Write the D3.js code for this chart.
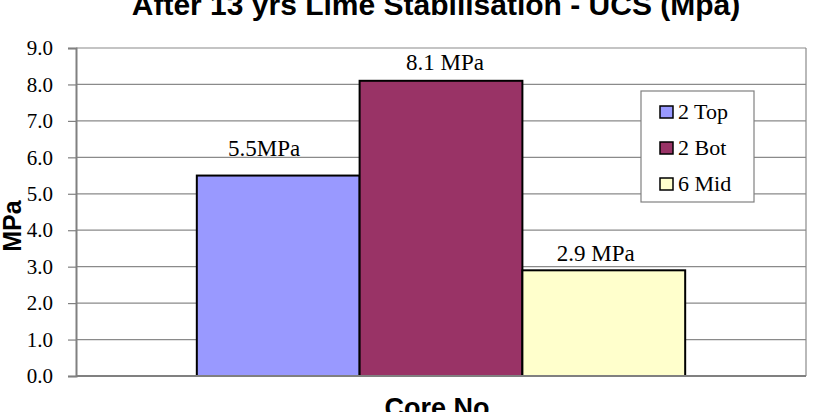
<!DOCTYPE html>
<html>
<head>
<meta charset="utf-8">
<script src="https://cdn.jsdelivr.net/npm/d3@7"></script>
<style>
  body { margin: 0; background: #fff; }
</style>
</head>
<body>
<div id="chart"></div>
<script>
const seriesNames = ['2 Top', '2 Bot', '6 Mid']
const seriesValues = [5.5, 8.1, 2.9]
const barLabels = ['5.5MPa', '8.1 MPa', '2.9 MPa']
const seriesColors = ['#9999ff', '#993366', '#ffffcc']
const yTicks = [0, 1, 2, 3, 4, 5, 6, 7, 8, 9]

// hand placed label nudges (dx, dy above bar top), as in the original sheet
const labelNudge = [[-14, 20], [4, 11], [-8, 9]]

const width = 815
const height = 412
const margin = { top: 48, right: 9, bottom: 36, left: 76 }
const innerW = width - margin.left - margin.right
const innerH = height - margin.top - margin.bottom

const serif = 'Liberation Serif, Times New Roman, serif'
const sans = 'Liberation Sans, Arial, sans-serif'

const svg = d3.select('#chart')
  .append('svg')
  .attr('width', width)
  .attr('height', height)

const g = svg.append('g')
  .attr('transform', `translate(${margin.left},${margin.top})`)

const y = d3.scaleLinear().domain([0, 9]).range([innerH, 0])
const x0 = d3.scaleBand().domain(['Core']).range([0, innerW]).paddingInner(0).paddingOuter(0.2474)
const x1 = d3.scaleBand().domain(seriesNames).range([0, x0.bandwidth()])

// gridlines
g.append('g')
  .selectAll('line')
  .data(yTicks)
  .join('line')
  .attr('x1', 0)
  .attr('x2', innerW)
  .attr('y1', d => y(d))
  .attr('y2', d => y(d))
  .attr('stroke', '#8a8a8a')
  .attr('stroke-width', 1.2)

// plot border (right side)
g.append('line')
  .attr('x1', innerW).attr('x2', innerW)
  .attr('y1', 0).attr('y2', innerH)
  .attr('stroke', '#8a8a8a')
  .attr('stroke-width', 1.2)

const data = seriesNames.map((s, i) => ({
  s, v: seriesValues[i], label: barLabels[i], c: seriesColors[i], nudge: labelNudge[i],
}))

// bars
g.append('g')
  .selectAll('rect')
  .data(data)
  .join('rect')
  .attr('x', d => x0('Core') + x1(d.s))
  .attr('y', d => y(d.v))
  .attr('width', x1.bandwidth())
  .attr('height', d => innerH - y(d.v))
  .attr('fill', d => d.c)
  .attr('stroke', '#000')
  .attr('stroke-width', 2)

// data labels
g.append('g')
  .selectAll('text')
  .data(data)
  .join('text')
  .attr('x', d => x0('Core') + x1(d.s) + x1.bandwidth() / 2 + d.nudge[0])
  .attr('y', d => y(d.v) - d.nudge[1])
  .attr('text-anchor', 'middle')
  .attr('font-family', serif)
  .attr('font-size', 23)
  .attr('fill', '#000')
  .text(d => d.label)

// y axis
const yAxis = g.append('g')
  .call(d3.axisLeft(y).tickValues(yTicks).tickFormat(d3.format('.1f')).tickSize(8).tickPadding(15))
yAxis.select('.domain').attr('stroke', '#808080').attr('stroke-width', 2)
yAxis.selectAll('.tick line').attr('stroke', '#808080').attr('stroke-width', 1.2)
yAxis.selectAll('.tick text')
  .attr('font-family', serif)
  .attr('font-size', 21)
  .attr('fill', '#000')

// x axis line
g.append('line')
  .attr('x1', 0).attr('x2', innerW)
  .attr('y1', innerH).attr('y2', innerH)
  .attr('stroke', '#808080').attr('stroke-width', 2)

// title
svg.append('text')
  .attr('x', 436)
  .attr('y', 15)
  .attr('text-anchor', 'middle')
  .attr('font-family', sans)
  .attr('font-weight', 'bold')
  .attr('font-size', 30)
  .text('After 13 yrs Lime Stabilisation - UCS (Mpa)')

// axis titles
svg.append('text')
  .attr('transform', 'translate(21,226) rotate(-90)')
  .attr('text-anchor', 'middle')
  .attr('font-family', sans)
  .attr('font-weight', 'bold')
  .attr('font-size', 25)
  .text('MPa')

svg.append('text')
  .attr('x', 437)
  .attr('y', 417)
  .attr('text-anchor', 'middle')
  .attr('font-family', sans)
  .attr('font-weight', 'bold')
  .attr('font-size', 27)
  .text('Core No')

// legend
const legend = svg.append('g').attr('transform', 'translate(641,91)')
legend.append('rect')
  .attr('width', 113).attr('height', 111)
  .attr('fill', '#fff').attr('stroke', '#808080').attr('stroke-width', 1.2)
const items = legend.selectAll('g.item')
  .data(data)
  .join('g')
  .attr('class', 'item')
  .attr('transform', (d, i) => `translate(19,${28 + i * 36})`)
items.append('rect')
  .attr('x', 0).attr('y', -13)
  .attr('width', 13).attr('height', 12)
  .attr('fill', d => d.c)
  .attr('stroke', '#000').attr('stroke-width', 1.5)
items.append('text')
  .attr('x', 18).attr('y', 0)
  .attr('font-family', serif)
  .attr('font-size', 22)
  .text(d => d.s)
</script>
</body>
</html>
